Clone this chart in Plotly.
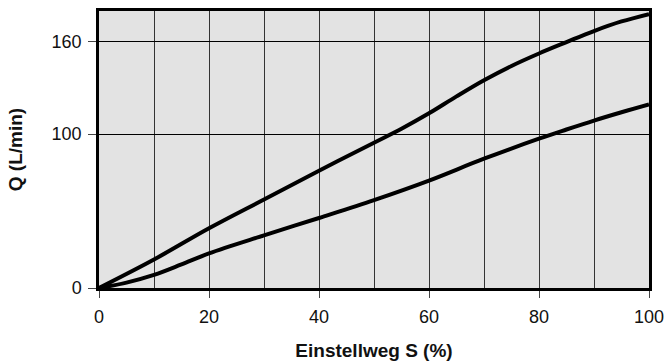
import plotly.graph_objects as go

# Data
stroke_upper = [0, 10, 20, 30, 40, 50, 55, 60, 65, 70, 75, 80, 85, 90, 95, 100]
flow_upper = [0, 18.5, 38.8, 57.5, 76.2, 94.4, 103.5, 113.5, 124.5, 135, 144.3, 152.4, 159.8, 167, 173.2, 178]

stroke_lower = [0, 5, 10, 15, 20, 30, 40, 50, 60, 70, 80, 85, 90, 95, 100]
flow_lower = [0, 3.5, 8.5, 15.3, 22.5, 34.2, 45.5, 57.1, 69.8, 84, 97, 103, 108.8, 114.2, 119.3]

x_ticks = [0, 20, 40, 60, 80, 100]
y_ticks = [0, 100, 160]

FONT = "Liberation Sans, Arial, sans-serif"

fig = go.Figure()
for xs, ys in [(stroke_upper, flow_upper), (stroke_lower, flow_lower)]:
    fig.add_trace(go.Scatter(
        x=xs, y=ys, mode="lines",
        line=dict(color="black", width=4, shape="spline", smoothing=1),
        showlegend=False, hoverinfo="skip",
    ))

fig.update_layout(
    width=668, height=361,
    margin=dict(l=99, r=19, t=11, b=73),
    paper_bgcolor="white",
    plot_bgcolor="#e3e3e3",
    font=dict(family=FONT, color="#111"),
)

fig.update_xaxes(
    range=[0, 100], tickvals=x_ticks,
    ticks="outside", ticklen=7, tickcolor="#444", tickwidth=1,
    tickfont=dict(size=18, family=FONT, color="#111"),
    ticklabelstandoff=4,
    showgrid=True, gridcolor="#333", gridwidth=1,
    minor=dict(dtick=10, tick0=0, showgrid=True, gridcolor="#333", gridwidth=1, ticks=""),
    showline=True, linecolor="black", linewidth=2.5, mirror=True,
    zeroline=False,
    title=dict(text="<b>Einstellweg S (%)</b>", font=dict(size=19, family=FONT, color="#111"), standoff=20),
    automargin=False,
)
fig.update_yaxes(
    range=[0, 180], tickvals=y_ticks,
    ticks="outside", ticklen=8, tickcolor="#444", tickwidth=1,
    tickfont=dict(size=18, family=FONT, color="#111"),
    ticklabelstandoff=3,
    showgrid=True, gridcolor="black", gridwidth=1,
    showline=True, linecolor="black", linewidth=2.5, mirror=True,
    zeroline=False,
    title=dict(text="<b>Q (L/min)</b>", font=dict(size=19, family=FONT, color="#111"), standoff=24),
    automargin=False,
)

fig.write_html("out.html")
